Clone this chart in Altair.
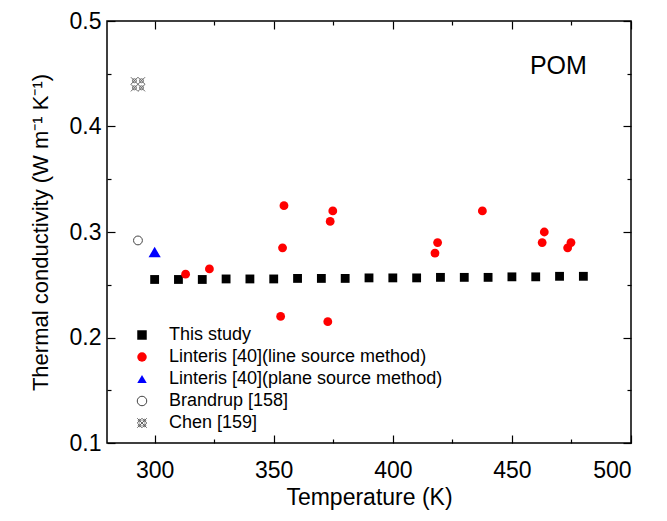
import altair as alt
import pandas as pd

# ---------------- data ----------------
study_T = [300, 310, 320, 330, 340, 350, 360, 370, 380, 390, 400, 410, 420, 430, 440, 450, 460, 470, 480]
study_k = [0.255, 0.255, 0.255, 0.2555, 0.2555, 0.2555, 0.256, 0.256, 0.256, 0.2565, 0.2565, 0.2565,
           0.257, 0.257, 0.257, 0.2575, 0.2575, 0.258, 0.258]

line_T = [313, 323, 354.3, 353.7, 352.9, 372.7, 374.8, 373.7, 418.8, 417.7, 437.6, 463.6, 462.7, 474.8, 473.4]
line_k = [0.260, 0.265, 0.325, 0.285, 0.220, 0.215, 0.320, 0.310, 0.290, 0.280, 0.320, 0.300, 0.290, 0.290, 0.285]

plane_T = [300]
plane_k = [0.281]

brandrup_T = [293]
brandrup_k = [0.292]

chen_T = [293]
chen_k = [0.440]

series_names = ["This study",
                "Linteris [40](line source method)",
                "Linteris [40](plane source method)",
                "Brandrup [158]",
                "Chen [159]"]

x_major = [300, 350, 400, 450, 500]
x_minor = [325, 375, 425, 475]
y_major = [0.1, 0.2, 0.3, 0.4, 0.5]
y_minor = [0.15, 0.25, 0.35, 0.45]

label_T = [469.5]
label_k = [0.4575]
label_text = ["POM"]

# ---------------- table ----------------
rows = []
for name, Ts, ks in zip(series_names,
                        [study_T, line_T, plane_T, brandrup_T, chen_T],
                        [study_k, line_k, plane_k, brandrup_k, chen_k]):
    for t, k in zip(Ts, ks):
        rows.append({"T": t, "k": k, "series": name})
df = pd.DataFrame(rows)
pom = pd.DataFrame({"T": label_T, "k": label_k, "text": label_text})

FONT = "Liberation Sans"
chen_path = ("M -1 -1 L 1 1 M -1 1 L 1 -1 "
             "M 0 -1 L 1 0 L 0 1 L -1 0 Z "
             "M -0.5 -0.5 m -0.28 0 a 0.28 0.28 0 1 0 0.56 0 a 0.28 0.28 0 1 0 -0.56 0 "
             "M 0.5 -0.5 m -0.28 0 a 0.28 0.28 0 1 0 0.56 0 a 0.28 0.28 0 1 0 -0.56 0 "
             "M -0.5 0.5 m -0.28 0 a 0.28 0.28 0 1 0 0.56 0 a 0.28 0.28 0 1 0 -0.56 0 "
             "M 0.5 0.5 m -0.28 0 a 0.28 0.28 0 1 0 0.56 0 a 0.28 0.28 0 1 0 -0.56 0")

shapes = ["square", "circle", "triangle-up", "circle", chen_path]
fills = ["#000000", "#ff0000", "#0000ff", "#ffffff", "transparent"]
strokes = ["transparent", "transparent", "transparent", "#444444", "#666666"]

xs = alt.Scale(domain=[280, 500], nice=False, zero=False)
ys = alt.Scale(domain=[0.1, 0.5], nice=False, zero=False)


def axis(orient, values, size, labels, title=None, fmt=None, lpad=6, tpad=4, tfs=23):
    kw = dict(orient=orient, values=values, tickSize=size, offset=-size, labels=labels,
              domain=False, grid=False, ticks=True, tickColor="black", tickWidth=1.2,
              labelFont=FONT, labelFontSize=23, labelColor="black", labelPadding=lpad,
              titleFont=FONT, titleFontSize=tfs, titleColor="black", titleFontWeight="normal",
              titlePadding=tpad)
    kw["title"] = title if title is not None else ""
    if fmt is not None:
        kw["format"] = fmt
    return alt.Axis(**kw)


leg = alt.Legend(orient="none", legendX=26, legendY=305, title=None,
                 labelFont=FONT, labelFontSize=18, labelColor="black",
                 labelOffset=18, rowPadding=4, labelLimit=400, symbolStrokeWidth=1,
                 symbolSize=90, padding=0)

enc = dict(
    shape=alt.Shape("series:N", scale=alt.Scale(domain=series_names, range=shapes), legend=leg),
    fill=alt.Fill("series:N", scale=alt.Scale(domain=series_names, range=fills), legend=leg),
    stroke=alt.Stroke("series:N", scale=alt.Scale(domain=series_names, range=strokes), legend=leg),
)

main = alt.Chart(df).transform_filter(
    alt.FieldOneOfPredicate(field="series", oneOf=[series_names[0], series_names[1], series_names[3]])
).mark_point(filled=False, strokeWidth=1, opacity=1, size=78).encode(
    x=alt.X("T:Q", scale=xs,
            axis=axis("bottom", x_major, 8, True, "Temperature (K)", "d", lpad=16, tpad=4)),
    y=alt.Y("k:Q", scale=ys,
            axis=axis("left", y_major, 8, True, "Thermal conductivity (W m\u207b\u00b9 K\u207b\u00b9)",
                      ".1f", lpad=6, tpad=17, tfs=22)),
    **enc,
)

tri = alt.Chart(df).transform_filter(
    alt.datum.series == series_names[2]
).mark_point(filled=False, strokeWidth=1, opacity=1, size=150).encode(
    x=alt.X("T:Q", scale=xs, axis=axis("top", x_major, 8, False)),
    y=alt.Y("k:Q", scale=ys, axis=axis("right", y_major, 8, False)),
    **enc,
)

chen = alt.Chart(df).transform_filter(
    alt.datum.series == series_names[4]
).mark_point(filled=False, strokeWidth=1, opacity=1, size=200).encode(
    x=alt.X("T:Q", scale=xs, axis=axis("bottom", x_minor, 4, False)),
    y=alt.Y("k:Q", scale=ys, axis=axis("left", y_minor, 4, False)),
    **enc,
)

minor_tr = alt.Chart(df).mark_point(opacity=0).encode(
    x=alt.X("T:Q", scale=xs, axis=axis("top", x_minor, 4, False)),
    y=alt.Y("k:Q", scale=ys, axis=axis("right", y_minor, 4, False)),
)

label = alt.Chart(pom).mark_text(font=FONT, fontSize=25, color="black",
                                 align="center", baseline="middle").encode(
    x=alt.X("T:Q", scale=xs, axis=None),
    y=alt.Y("k:Q", scale=ys, axis=None),
    text="text:N",
)

chart = alt.layer(main, tri, chen, minor_tr, label).resolve_scale(
    x="independent", y="independent"
).properties(
    width=524, height=422,
    autosize=alt.AutoSizeParams(type="none"),
    padding={"left": 99, "top": 13, "right": 28, "bottom": 70},
    background="white",
).configure_view(stroke="black", strokeWidth=1.5)

chart.save("out.html", embed_options={"renderer": "svg", "actions": False})
